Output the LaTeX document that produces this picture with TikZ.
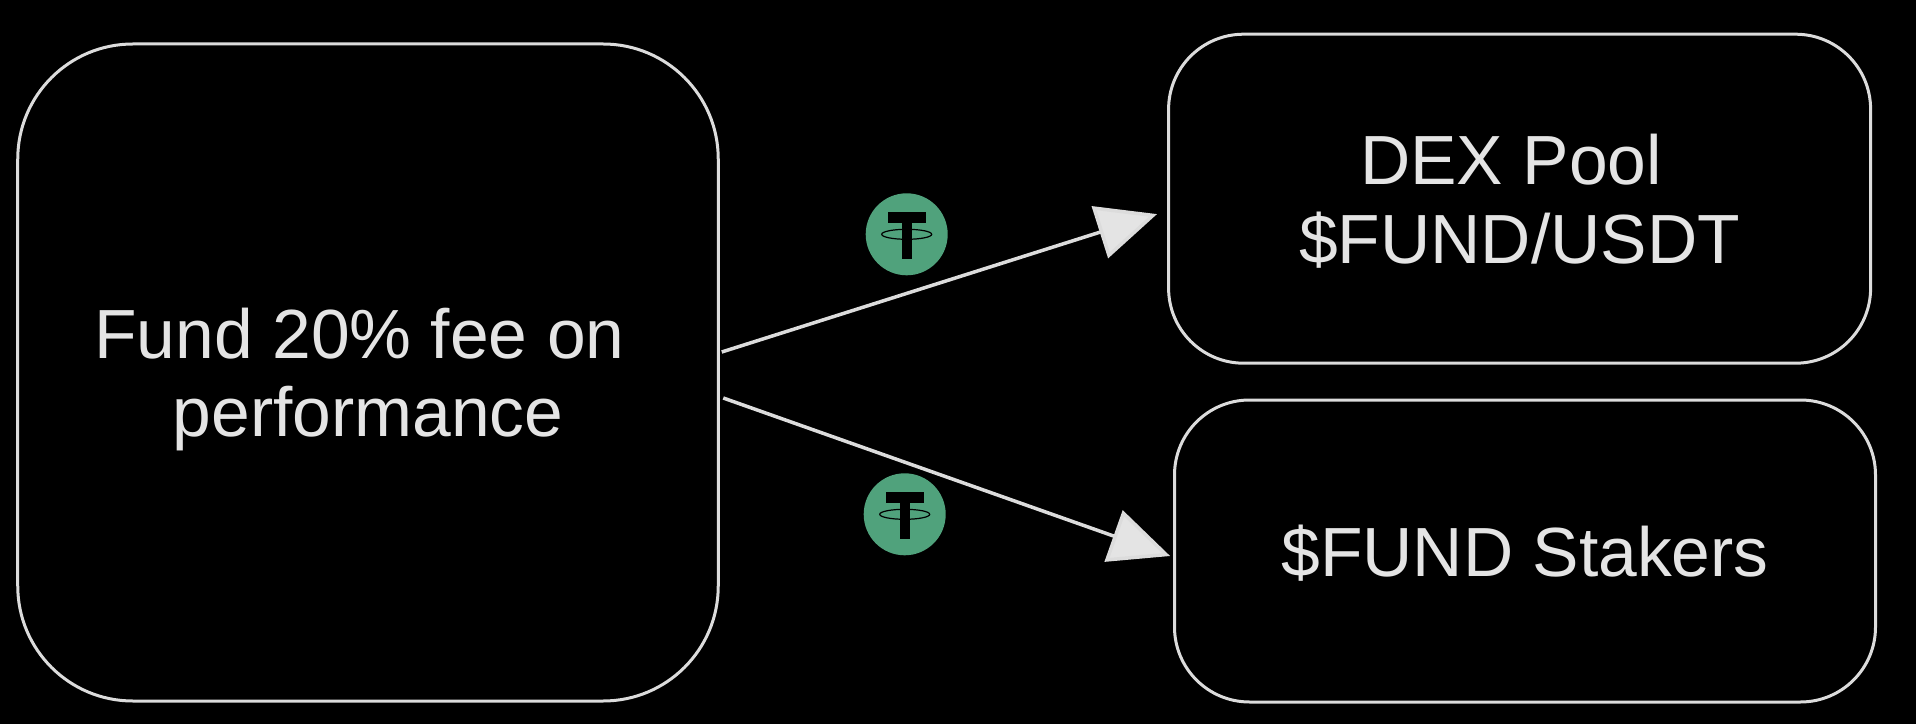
\documentclass[tikz,border=0pt]{standalone}
\usepackage{fontspec}
\setmainfont{Liberation Sans}
\usetikzlibrary{arrows.meta}
\definecolor{linegray}{HTML}{DCDCDC}
\definecolor{textgray}{HTML}{E4E4E4}
\definecolor{usdtgreen}{HTML}{50A27C}
\begin{document}
\begin{tikzpicture}
  [box/.style={draw=linegray,line width=.03cm,align=center,text=textgray,inner sep=0pt,outer sep=0pt,
     font=\fontsize{19.8}{22.3}\selectfont},
   coin/.style={circle,fill=usdtgreen,minimum size=.82cm,inner sep=0pt,outer sep=0pt},
   flow/.style={draw=linegray,line width=.035cm,-{Triangle[length=.6cm,width=.54cm,fill=textgray]}}]
  \useasboundingbox (0,0) rectangle (19.16,7.24);
  \fill[black] (0,0) rectangle (19.16,7.24);

  % the first lines sit a little left of centre, the rules push the text down
  \node[box,rounded corners=1.15cm,minimum width=7.005cm,minimum height=6.57cm] (fee) at (3.68,3.515) {\rule{0pt}{18.4pt}Fund 20\% fee on\hspace*{.17cm}\\performance};
  \node[box,rounded corners=.75cm,minimum width=7.02cm,minimum height=3.29cm] (dex) at (15.196,5.253) {\rule{0pt}{15.8pt}DEX Pool\hspace*{.17cm}\\\$FUND/USDT};
  \node[box,rounded corners=.75cm,minimum width=7.01cm,minimum height=3.02cm] (stakers) at (15.25,1.73) {\rule{0pt}{15.8pt}\$FUND Stakers};
  \node[coin] (usdtA) at (9.067,4.897) {};
  \node[coin] (usdtB) at (9.047,2.097) {};

  \foreach \coin in {usdtA,usdtB} {
    \fill[black,shift={(\coin)}] (-.19,.22) rectangle (.19,.11);
    \fill[black,shift={(\coin)}] (-.05,.22) rectangle (.05,-.25);
    \draw[black,line width=.012cm,shift={(\coin)}] (0,0) ellipse (.25 and .05);
  }

  \foreach \from/\fx/\fy/\to/\tx/\ty in {fee/.035/.205/dex/-.116/-.154,fee/.05/-.255/stakers/-.044/-.05}
    \draw[flow] ([shift={(\fx,\fy)}]\from.east) -- ([shift={(\tx,\ty)}]\to.west);
\end{tikzpicture}
\end{document}
